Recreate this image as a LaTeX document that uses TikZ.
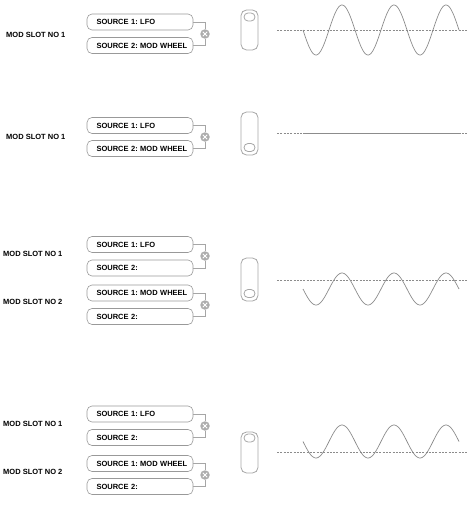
\documentclass[tikz,border=0pt]{standalone}
\usepackage{fontspec}
\setmainfont{Liberation Sans}
\frenchspacing
\begin{document}
\begin{tikzpicture}[x=1pt,y=-1pt,
  srcbox/.style={draw=black!40, line width=0.6pt, rounded corners=5pt, minimum width=106pt, minimum height=16pt, text width=96pt, inner xsep=5pt, align=left, font=\fontsize{7.5}{8}\selectfont\bfseries, anchor=center, execute at begin node={\hspace*{4.5pt}}},
  slotlabel/.style={anchor=west, inner sep=0pt, font=\fontsize{7.5}{8}\selectfont\bfseries},
  conn/.style={draw=black!35, line width=0.6pt},
  mult/.style={circle, fill=black!32, minimum size=9.5pt, inner sep=0pt},
  sliderbody/.style={draw=black!35, line width=0.8pt, rounded corners=5.5pt},
  sliderknob/.style={draw=black!35, line width=0.8pt, rounded corners=4pt},
  axisline/.style={draw=black!45, line width=0.5pt, dash pattern=on 2pt off 1.3pt},
  wave/.style={draw=black!45, line width=0.7pt}
]
\useasboundingbox (0,0) rectangle (470,511);
\newcommand{\multx}[1]{%
  \draw[white, line width=1pt] ([shift={(-2.2,-2.2)}]#1.center) -- ([shift={(2.2,2.2)}]#1.center);
  \draw[white, line width=1pt] ([shift={(-2.2,2.2)}]#1.center) -- ([shift={(2.2,-2.2)}]#1.center);}

% ---------- Block 1 ----------
\node[slotlabel] (l1) at (6,35) {MOD SLOT NO 1};
\node[srcbox] (b1a) at (140,22) {SOURCE 1: LFO};
\node[srcbox] (b1b) at (140,45.5) {SOURCE 2: MOD WHEEL};
\node[mult] (m1) at (205,34) {};
\multx{m1}
\draw[conn] (b1a.east) -| (m1.north);
\draw[conn] (b1b.east) -| (m1.south);
\draw[sliderbody] (241,10) rectangle (258,50);
\draw[sliderknob] (244,13) rectangle (255,21);
\draw[axisline] (277,30) -- (468,30);
\draw[wave] plot[domain=0:156, samples=160, smooth] ({303+\x},{30+25*sin(\x/52*360)});

% ---------- Block 2 ----------
\node[slotlabel] (l2) at (6,137) {MOD SLOT NO 1};
\node[srcbox] (b2a) at (140,125.5) {SOURCE 1: LFO};
\node[srcbox] (b2b) at (140,148.5) {SOURCE 2: MOD WHEEL};
\node[mult] (m2) at (205,137) {};
\multx{m2}
\draw[conn] (b2a.east) -| (m2.north);
\draw[conn] (b2b.east) -| (m2.south);
\draw[sliderbody] (241,112) rectangle (258,155);
\draw[sliderknob] (244,143.5) rectangle (255,151.5);
\draw[axisline] (277,133) -- (468,133);
\draw[wave, line width=0.8pt] (305,133) -- (460,133);

% ---------- Block 3 ----------
\node[slotlabel] (l3a) at (3,254) {MOD SLOT NO 1};
\node[slotlabel] (l3b) at (3,302) {MOD SLOT NO 2};
\node[srcbox] (b3a) at (140,244.5) {SOURCE 1: LFO};
\node[srcbox] (b3b) at (140,268) {SOURCE 2:};
\node[srcbox] (b3c) at (140,293) {SOURCE 1: MOD WHEEL};
\node[srcbox] (b3d) at (140,316.5) {SOURCE 2:};
\node[mult] (m3a) at (205,256) {};
\node[mult] (m3b) at (205,305) {};
\multx{m3a}
\multx{m3b}
\draw[conn] (b3a.east) -| (m3a.north);
\draw[conn] (b3b.east) -| (m3a.south);
\draw[conn] (b3c.east) -| (m3b.north);
\draw[conn] (b3d.east) -| (m3b.south);
\draw[sliderbody] (241,258) rectangle (258,301);
\draw[sliderknob] (244,289.5) rectangle (255,297.5);
\draw[axisline] (277,280) -- (468,280);
\draw[wave] plot[domain=0:156, samples=160, smooth] ({303+\x},{289+16*sin(\x/52*360)});

% ---------- Block 4 ----------
\node[slotlabel] (l4a) at (3,424) {MOD SLOT NO 1};
\node[slotlabel] (l4b) at (3,472) {MOD SLOT NO 2};
\node[srcbox] (b4a) at (140,414) {SOURCE 1: LFO};
\node[srcbox] (b4b) at (140,437.5) {SOURCE 2:};
\node[srcbox] (b4c) at (140,463.5) {SOURCE 1: MOD WHEEL};
\node[srcbox] (b4d) at (140,486.5) {SOURCE 2:};
\node[mult] (m4a) at (205,426) {};
\node[mult] (m4b) at (205,475) {};
\multx{m4a}
\multx{m4b}
\draw[conn] (b4a.east) -| (m4a.north);
\draw[conn] (b4b.east) -| (m4a.south);
\draw[conn] (b4c.east) -| (m4b.north);
\draw[conn] (b4d.east) -| (m4b.south);
\draw[sliderbody] (241,432) rectangle (258,473);
\draw[sliderknob] (244,434) rectangle (255,442);
\draw[axisline] (277,452) -- (468,452);
\draw[wave] plot[domain=0:156, samples=160, smooth] ({303+\x},{441.5+16.5*sin(\x/52*360)});
\end{tikzpicture}
\end{document}
